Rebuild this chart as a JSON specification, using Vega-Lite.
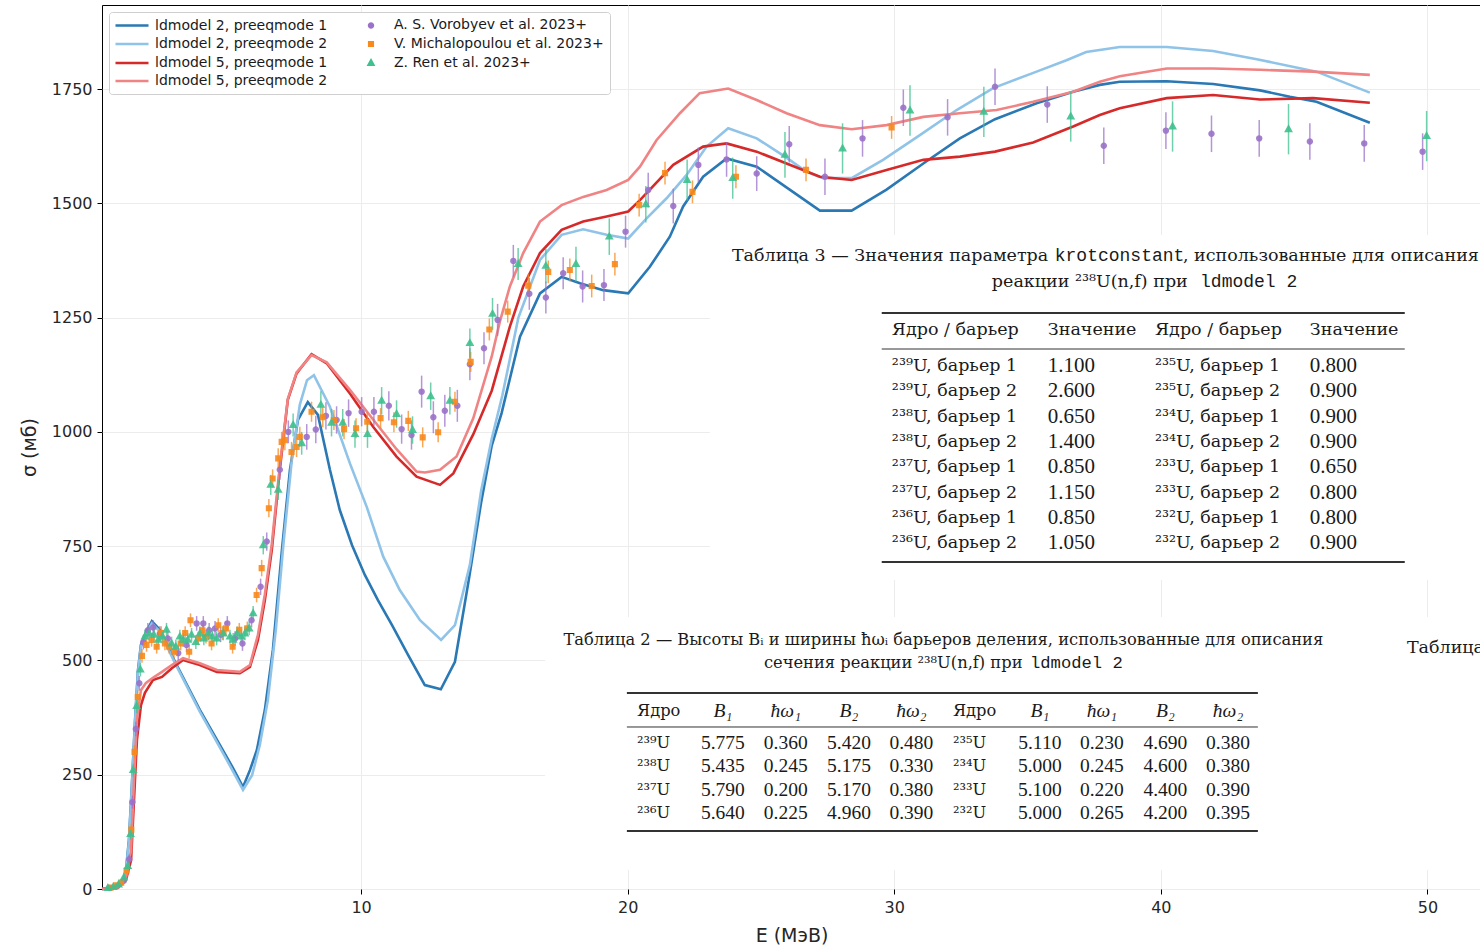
{
"$schema":"https://vega.github.io/schema/vega-lite/v6.json",
"width":1379,"height":884,
"autosize":"none",
"padding":{"left":102,"top":5,"right":0,"bottom":60},
"background":"white",
"config":{"view":{"stroke":"#000000","strokeWidth":1}},
"datasets":{
"curves":[
{"series":"ldmodel 2, preeqmode 1","e":0.28,"s":0},{"series":"ldmodel 2, preeqmode 1","e":0.77,"s":2},{"series":"ldmodel 2, preeqmode 1","e":1.03,"s":11},{"series":"ldmodel 2, preeqmode 1","e":1.18,"s":42},{"series":"ldmodel 2, preeqmode 1","e":1.29,"s":107},{"series":"ldmodel 2, preeqmode 1","e":1.40,"s":227},{"series":"ldmodel 2, preeqmode 1","e":1.52,"s":370},{"series":"ldmodel 2, preeqmode 1","e":1.63,"s":479},{"series":"ldmodel 2, preeqmode 1","e":1.74,"s":534},{"series":"ldmodel 2, preeqmode 1","e":1.93,"s":562},{"series":"ldmodel 2, preeqmode 1","e":2.15,"s":586},{"series":"ldmodel 2, preeqmode 1","e":2.45,"s":567},{"series":"ldmodel 2, preeqmode 1","e":3.02,"s":497},{"series":"ldmodel 2, preeqmode 1","e":3.95,"s":392},{"series":"ldmodel 2, preeqmode 1","e":4.70,"s":315},{"series":"ldmodel 2, preeqmode 1","e":5.19,"s":265},{"series":"ldmodel 2, preeqmode 1","e":5.57,"s":223},{"series":"ldmodel 2, preeqmode 1","e":5.83,"s":260},{"series":"ldmodel 2, preeqmode 1","e":6.09,"s":304},{"series":"ldmodel 2, preeqmode 1","e":6.39,"s":392},{"series":"ldmodel 2, preeqmode 1","e":6.69,"s":523},{"series":"ldmodel 2, preeqmode 1","e":7.03,"s":742},{"series":"ldmodel 2, preeqmode 1","e":7.33,"s":917},{"series":"ldmodel 2, preeqmode 1","e":7.63,"s":1026},{"series":"ldmodel 2, preeqmode 1","e":8.00,"s":1065},{"series":"ldmodel 2, preeqmode 1","e":8.38,"s":1037},{"series":"ldmodel 2, preeqmode 1","e":8.83,"s":917},{"series":"ldmodel 2, preeqmode 1","e":9.20,"s":829},{"series":"ldmodel 2, preeqmode 1","e":9.66,"s":752},{"series":"ldmodel 2, preeqmode 1","e":10.14,"s":687},{"series":"ldmodel 2, preeqmode 1","e":10.63,"s":632},{"series":"ldmodel 2, preeqmode 1","e":11.16,"s":577},{"series":"ldmodel 2, preeqmode 1","e":11.76,"s":512},{"series":"ldmodel 2, preeqmode 1","e":12.39,"s":446},{"series":"ldmodel 2, preeqmode 1","e":12.99,"s":437},{"series":"ldmodel 2, preeqmode 1","e":13.52,"s":497},{"series":"ldmodel 2, preeqmode 1","e":14.05,"s":680},{"series":"ldmodel 2, preeqmode 1","e":14.5,"s":845},{"series":"ldmodel 2, preeqmode 1","e":14.9,"s":970},{"series":"ldmodel 2, preeqmode 1","e":15.27,"s":1041},{"series":"ldmodel 2, preeqmode 1","e":15.96,"s":1208},{"series":"ldmodel 2, preeqmode 1","e":16.71,"s":1303},{"series":"ldmodel 2, preeqmode 1","e":17.52,"s":1339},{"series":"ldmodel 2, preeqmode 1","e":18.21,"s":1325},{"series":"ldmodel 2, preeqmode 1","e":19.08,"s":1310},{"series":"ldmodel 2, preeqmode 1","e":20.02,"s":1303},{"series":"ldmodel 2, preeqmode 1","e":20.83,"s":1361},{"series":"ldmodel 2, preeqmode 1","e":21.58,"s":1427},{"series":"ldmodel 2, preeqmode 1","e":22.08,"s":1493},{"series":"ldmodel 2, preeqmode 1","e":22.83,"s":1558},{"series":"ldmodel 2, preeqmode 1","e":23.71,"s":1598},{"series":"ldmodel 2, preeqmode 1","e":24.84,"s":1580},{"series":"ldmodel 2, preeqmode 1","e":27.21,"s":1484},{"series":"ldmodel 2, preeqmode 1","e":28.40,"s":1484},{"series":"ldmodel 2, preeqmode 1","e":29.71,"s":1530},{"series":"ldmodel 2, preeqmode 1","e":31.09,"s":1587},{"series":"ldmodel 2, preeqmode 1","e":32.46,"s":1642},{"series":"ldmodel 2, preeqmode 1","e":33.78,"s":1684},{"series":"ldmodel 2, preeqmode 1","e":35.34,"s":1719},{"series":"ldmodel 2, preeqmode 1","e":36.71,"s":1744},{"series":"ldmodel 2, preeqmode 1","e":37.71,"s":1759},{"series":"ldmodel 2, preeqmode 1","e":38.46,"s":1766},{"series":"ldmodel 2, preeqmode 1","e":40.22,"s":1767},{"series":"ldmodel 2, preeqmode 1","e":41.96,"s":1761},{"series":"ldmodel 2, preeqmode 1","e":43.72,"s":1747},{"series":"ldmodel 2, preeqmode 1","e":44.84,"s":1733},{"series":"ldmodel 2, preeqmode 1","e":45.84,"s":1722},{"series":"ldmodel 2, preeqmode 1","e":47.84,"s":1676},
{"series":"ldmodel 2, preeqmode 2","e":0.28,"s":0},{"series":"ldmodel 2, preeqmode 2","e":0.77,"s":2},{"series":"ldmodel 2, preeqmode 2","e":1.03,"s":10},{"series":"ldmodel 2, preeqmode 2","e":1.18,"s":40},{"series":"ldmodel 2, preeqmode 2","e":1.29,"s":103},{"series":"ldmodel 2, preeqmode 2","e":1.40,"s":222},{"series":"ldmodel 2, preeqmode 2","e":1.52,"s":365},{"series":"ldmodel 2, preeqmode 2","e":1.63,"s":474},{"series":"ldmodel 2, preeqmode 2","e":1.74,"s":530},{"series":"ldmodel 2, preeqmode 2","e":1.93,"s":558},{"series":"ldmodel 2, preeqmode 2","e":2.15,"s":581},{"series":"ldmodel 2, preeqmode 2","e":2.45,"s":563},{"series":"ldmodel 2, preeqmode 2","e":3.02,"s":494},{"series":"ldmodel 2, preeqmode 2","e":3.95,"s":388},{"series":"ldmodel 2, preeqmode 2","e":4.70,"s":310},{"series":"ldmodel 2, preeqmode 2","e":5.19,"s":258},{"series":"ldmodel 2, preeqmode 2","e":5.57,"s":217},{"series":"ldmodel 2, preeqmode 2","e":5.91,"s":249},{"series":"ldmodel 2, preeqmode 2","e":6.20,"s":315},{"series":"ldmodel 2, preeqmode 2","e":6.50,"s":413},{"series":"ldmodel 2, preeqmode 2","e":6.80,"s":567},{"series":"ldmodel 2, preeqmode 2","e":7.10,"s":763},{"series":"ldmodel 2, preeqmode 2","e":7.40,"s":938},{"series":"ldmodel 2, preeqmode 2","e":7.70,"s":1059},{"series":"ldmodel 2, preeqmode 2","e":7.97,"s":1113},{"series":"ldmodel 2, preeqmode 2","e":8.23,"s":1124},{"series":"ldmodel 2, preeqmode 2","e":8.83,"s":1055},{"series":"ldmodel 2, preeqmode 2","e":9.58,"s":931},{"series":"ldmodel 2, preeqmode 2","e":10.21,"s":836},{"series":"ldmodel 2, preeqmode 2","e":10.83,"s":727},{"series":"ldmodel 2, preeqmode 2","e":11.45,"s":654},{"series":"ldmodel 2, preeqmode 2","e":12.21,"s":588},{"series":"ldmodel 2, preeqmode 2","e":13.0,"s":545},{"series":"ldmodel 2, preeqmode 2","e":13.52,"s":577},{"series":"ldmodel 2, preeqmode 2","e":14.08,"s":709},{"series":"ldmodel 2, preeqmode 2","e":14.5,"s":870},{"series":"ldmodel 2, preeqmode 2","e":14.9,"s":985},{"series":"ldmodel 2, preeqmode 2","e":15.3,"s":1080},{"series":"ldmodel 2, preeqmode 2","e":15.9,"s":1250},{"series":"ldmodel 2, preeqmode 2","e":16.71,"s":1376},{"series":"ldmodel 2, preeqmode 2","e":17.52,"s":1431},{"series":"ldmodel 2, preeqmode 2","e":18.33,"s":1443},{"series":"ldmodel 2, preeqmode 2","e":19.21,"s":1431},{"series":"ldmodel 2, preeqmode 2","e":20.02,"s":1423},{"series":"ldmodel 2, preeqmode 2","e":20.71,"s":1467},{"series":"ldmodel 2, preeqmode 2","e":21.46,"s":1511},{"series":"ldmodel 2, preeqmode 2","e":22.21,"s":1562},{"series":"ldmodel 2, preeqmode 2","e":22.96,"s":1624},{"series":"ldmodel 2, preeqmode 2","e":23.77,"s":1664},{"series":"ldmodel 2, preeqmode 2","e":24.84,"s":1642},{"series":"ldmodel 2, preeqmode 2","e":25.90,"s":1602},{"series":"ldmodel 2, preeqmode 2","e":26.71,"s":1569},{"series":"ldmodel 2, preeqmode 2","e":27.33,"s":1555},{"series":"ldmodel 2, preeqmode 2","e":28.40,"s":1555},{"series":"ldmodel 2, preeqmode 2","e":29.58,"s":1595},{"series":"ldmodel 2, preeqmode 2","e":30.96,"s":1649},{"series":"ldmodel 2, preeqmode 2","e":32.34,"s":1704},{"series":"ldmodel 2, preeqmode 2","e":33.71,"s":1752},{"series":"ldmodel 2, preeqmode 2","e":35.34,"s":1788},{"series":"ldmodel 2, preeqmode 2","e":36.46,"s":1813},{"series":"ldmodel 2, preeqmode 2","e":37.2,"s":1831},{"series":"ldmodel 2, preeqmode 2","e":38.46,"s":1842},{"series":"ldmodel 2, preeqmode 2","e":40.22,"s":1842},{"series":"ldmodel 2, preeqmode 2","e":41.96,"s":1833},{"series":"ldmodel 2, preeqmode 2","e":43.6,"s":1815},{"series":"ldmodel 2, preeqmode 2","e":45.84,"s":1788},{"series":"ldmodel 2, preeqmode 2","e":47.84,"s":1742},
{"series":"ldmodel 5, preeqmode 1","e":0.28,"s":0},{"series":"ldmodel 5, preeqmode 1","e":0.88,"s":4},{"series":"ldmodel 5, preeqmode 1","e":1.18,"s":20},{"series":"ldmodel 5, preeqmode 1","e":1.37,"s":63},{"series":"ldmodel 5, preeqmode 1","e":1.48,"s":195},{"series":"ldmodel 5, preeqmode 1","e":1.59,"s":326},{"series":"ldmodel 5, preeqmode 1","e":1.74,"s":402},{"series":"ldmodel 5, preeqmode 1","e":1.89,"s":429},{"series":"ldmodel 5, preeqmode 1","e":2.19,"s":457},{"series":"ldmodel 5, preeqmode 1","e":2.53,"s":464},{"series":"ldmodel 5, preeqmode 1","e":2.90,"s":483},{"series":"ldmodel 5, preeqmode 1","e":3.32,"s":501},{"series":"ldmodel 5, preeqmode 1","e":3.95,"s":490},{"series":"ldmodel 5, preeqmode 1","e":4.59,"s":475},{"series":"ldmodel 5, preeqmode 1","e":5.45,"s":472},{"series":"ldmodel 5, preeqmode 1","e":5.83,"s":486},{"series":"ldmodel 5, preeqmode 1","e":6.13,"s":545},{"series":"ldmodel 5, preeqmode 1","e":6.39,"s":632},{"series":"ldmodel 5, preeqmode 1","e":6.65,"s":742},{"series":"ldmodel 5, preeqmode 1","e":6.95,"s":917},{"series":"ldmodel 5, preeqmode 1","e":7.25,"s":1070},{"series":"ldmodel 5, preeqmode 1","e":7.58,"s":1128},{"series":"ldmodel 5, preeqmode 1","e":8.14,"s":1170},{"series":"ldmodel 5, preeqmode 1","e":8.71,"s":1150},{"series":"ldmodel 5, preeqmode 1","e":9.58,"s":1084},{"series":"ldmodel 5, preeqmode 1","e":10.45,"s":1011},{"series":"ldmodel 5, preeqmode 1","e":11.33,"s":946},{"series":"ldmodel 5, preeqmode 1","e":12.08,"s":902},{"series":"ldmodel 5, preeqmode 1","e":12.96,"s":884},{"series":"ldmodel 5, preeqmode 1","e":13.46,"s":909},{"series":"ldmodel 5, preeqmode 1","e":14.21,"s":995},{"series":"ldmodel 5, preeqmode 1","e":14.9,"s":1090},{"series":"ldmodel 5, preeqmode 1","e":15.58,"s":1230},{"series":"ldmodel 5, preeqmode 1","e":16.08,"s":1318},{"series":"ldmodel 5, preeqmode 1","e":16.71,"s":1391},{"series":"ldmodel 5, preeqmode 1","e":17.52,"s":1442},{"series":"ldmodel 5, preeqmode 1","e":18.33,"s":1460},{"series":"ldmodel 5, preeqmode 1","e":19.21,"s":1471},{"series":"ldmodel 5, preeqmode 1","e":20.02,"s":1482},{"series":"ldmodel 5, preeqmode 1","e":20.46,"s":1507},{"series":"ldmodel 5, preeqmode 1","e":21.71,"s":1584},{"series":"ldmodel 5, preeqmode 1","e":22.83,"s":1624},{"series":"ldmodel 5, preeqmode 1","e":23.71,"s":1631},{"series":"ldmodel 5, preeqmode 1","e":24.84,"s":1613},{"series":"ldmodel 5, preeqmode 1","e":27.21,"s":1558},{"series":"ldmodel 5, preeqmode 1","e":28.40,"s":1551},{"series":"ldmodel 5, preeqmode 1","e":29.71,"s":1573},{"series":"ldmodel 5, preeqmode 1","e":31.09,"s":1595},{"series":"ldmodel 5, preeqmode 1","e":32.46,"s":1602},{"series":"ldmodel 5, preeqmode 1","e":33.78,"s":1613},{"series":"ldmodel 5, preeqmode 1","e":35.21,"s":1633},{"series":"ldmodel 5, preeqmode 1","e":36.71,"s":1668},{"series":"ldmodel 5, preeqmode 1","e":37.71,"s":1693},{"series":"ldmodel 5, preeqmode 1","e":38.46,"s":1708},{"series":"ldmodel 5, preeqmode 1","e":40.22,"s":1730},{"series":"ldmodel 5, preeqmode 1","e":41.96,"s":1737},{"series":"ldmodel 5, preeqmode 1","e":43.72,"s":1727},{"series":"ldmodel 5, preeqmode 1","e":45.71,"s":1730},{"series":"ldmodel 5, preeqmode 1","e":47.84,"s":1720},
{"series":"ldmodel 5, preeqmode 2","e":0.28,"s":0},{"series":"ldmodel 5, preeqmode 2","e":0.88,"s":4},{"series":"ldmodel 5, preeqmode 2","e":1.18,"s":24},{"series":"ldmodel 5, preeqmode 2","e":1.37,"s":85},{"series":"ldmodel 5, preeqmode 2","e":1.48,"s":238},{"series":"ldmodel 5, preeqmode 2","e":1.59,"s":370},{"series":"ldmodel 5, preeqmode 2","e":1.74,"s":435},{"series":"ldmodel 5, preeqmode 2","e":1.93,"s":451},{"series":"ldmodel 5, preeqmode 2","e":2.19,"s":462},{"series":"ldmodel 5, preeqmode 2","e":2.53,"s":475},{"series":"ldmodel 5, preeqmode 2","e":2.90,"s":490},{"series":"ldmodel 5, preeqmode 2","e":3.32,"s":505},{"series":"ldmodel 5, preeqmode 2","e":3.95,"s":494},{"series":"ldmodel 5, preeqmode 2","e":4.59,"s":479},{"series":"ldmodel 5, preeqmode 2","e":5.45,"s":475},{"series":"ldmodel 5, preeqmode 2","e":5.83,"s":490},{"series":"ldmodel 5, preeqmode 2","e":6.13,"s":556},{"series":"ldmodel 5, preeqmode 2","e":6.39,"s":645},{"series":"ldmodel 5, preeqmode 2","e":6.65,"s":755},{"series":"ldmodel 5, preeqmode 2","e":6.95,"s":925},{"series":"ldmodel 5, preeqmode 2","e":7.25,"s":1072},{"series":"ldmodel 5, preeqmode 2","e":7.58,"s":1130},{"series":"ldmodel 5, preeqmode 2","e":8.14,"s":1168},{"series":"ldmodel 5, preeqmode 2","e":8.71,"s":1152},{"series":"ldmodel 5, preeqmode 2","e":9.58,"s":1092},{"series":"ldmodel 5, preeqmode 2","e":10.45,"s":1027},{"series":"ldmodel 5, preeqmode 2","e":11.33,"s":962},{"series":"ldmodel 5, preeqmode 2","e":12.08,"s":913},{"series":"ldmodel 5, preeqmode 2","e":12.39,"s":911},{"series":"ldmodel 5, preeqmode 2","e":12.96,"s":917},{"series":"ldmodel 5, preeqmode 2","e":13.58,"s":946},{"series":"ldmodel 5, preeqmode 2","e":14.21,"s":1030},{"series":"ldmodel 5, preeqmode 2","e":14.9,"s":1165},{"series":"ldmodel 5, preeqmode 2","e":15.2,"s":1240},{"series":"ldmodel 5, preeqmode 2","e":15.58,"s":1318},{"series":"ldmodel 5, preeqmode 2","e":16.08,"s":1391},{"series":"ldmodel 5, preeqmode 2","e":16.71,"s":1460},{"series":"ldmodel 5, preeqmode 2","e":17.52,"s":1496},{"series":"ldmodel 5, preeqmode 2","e":18.33,"s":1514},{"series":"ldmodel 5, preeqmode 2","e":19.21,"s":1529},{"series":"ldmodel 5, preeqmode 2","e":20.02,"s":1551},{"series":"ldmodel 5, preeqmode 2","e":20.46,"s":1580},{"series":"ldmodel 5, preeqmode 2","e":21.08,"s":1638},{"series":"ldmodel 5, preeqmode 2","e":21.96,"s":1697},{"series":"ldmodel 5, preeqmode 2","e":22.7,"s":1741},{"series":"ldmodel 5, preeqmode 2","e":23.77,"s":1751},{"series":"ldmodel 5, preeqmode 2","e":24.84,"s":1726},{"series":"ldmodel 5, preeqmode 2","e":25.96,"s":1697},{"series":"ldmodel 5, preeqmode 2","e":27.21,"s":1671},{"series":"ldmodel 5, preeqmode 2","e":28.40,"s":1662},{"series":"ldmodel 5, preeqmode 2","e":29.71,"s":1671},{"series":"ldmodel 5, preeqmode 2","e":31.09,"s":1689},{"series":"ldmodel 5, preeqmode 2","e":32.46,"s":1697},{"series":"ldmodel 5, preeqmode 2","e":33.84,"s":1704},{"series":"ldmodel 5, preeqmode 2","e":35.21,"s":1722},{"series":"ldmodel 5, preeqmode 2","e":36.71,"s":1744},{"series":"ldmodel 5, preeqmode 2","e":37.71,"s":1766},{"series":"ldmodel 5, preeqmode 2","e":38.46,"s":1778},{"series":"ldmodel 5, preeqmode 2","e":40.22,"s":1795},{"series":"ldmodel 5, preeqmode 2","e":41.96,"s":1795},{"series":"ldmodel 5, preeqmode 2","e":43.72,"s":1792},{"series":"ldmodel 5, preeqmode 2","e":45.71,"s":1788},{"series":"ldmodel 5, preeqmode 2","e":47.84,"s":1781}
],
"exp":[
{"series":"A. S. Vorobyev et al. 2023+","e":0.55,"s":2,"err":4},{"series":"A. S. Vorobyev et al. 2023+","e":0.85,"s":6,"err":5},{"series":"A. S. Vorobyev et al. 2023+","e":1.1,"s":18,"err":6},{"series":"A. S. Vorobyev et al. 2023+","e":1.3,"s":65,"err":10},{"series":"A. S. Vorobyev et al. 2023+","e":1.42,"s":190,"err":14},{"series":"A. S. Vorobyev et al. 2023+","e":1.55,"s":350,"err":16},{"series":"A. S. Vorobyev et al. 2023+","e":1.68,"s":450,"err":16},{"series":"A. S. Vorobyev et al. 2023+","e":1.83,"s":540,"err":16},{"series":"A. S. Vorobyev et al. 2023+","e":2.0,"s":566,"err":16},{"series":"A. S. Vorobyev et al. 2023+","e":2.2,"s":572,"err":16},{"series":"A. S. Vorobyev et al. 2023+","e":2.45,"s":559,"err":16},{"series":"A. S. Vorobyev et al. 2023+","e":2.75,"s":548,"err":16},{"series":"A. S. Vorobyev et al. 2023+","e":3.14,"s":516,"err":16},{"series":"A. S. Vorobyev et al. 2023+","e":3.45,"s":534,"err":16},{"series":"A. S. Vorobyev et al. 2023+","e":3.83,"s":581,"err":16},{"series":"A. S. Vorobyev et al. 2023+","e":4.08,"s":581,"err":16},{"series":"A. S. Vorobyev et al. 2023+","e":4.3,"s":566,"err":16},{"series":"A. S. Vorobyev et al. 2023+","e":4.52,"s":570,"err":16},{"series":"A. S. Vorobyev et al. 2023+","e":4.73,"s":556,"err":16},{"series":"A. S. Vorobyev et al. 2023+","e":4.98,"s":581,"err":16},{"series":"A. S. Vorobyev et al. 2023+","e":5.27,"s":548,"err":16},{"series":"A. S. Vorobyev et al. 2023+","e":5.55,"s":537,"err":16},{"series":"A. S. Vorobyev et al. 2023+","e":5.89,"s":588,"err":16},{"series":"A. S. Vorobyev et al. 2023+","e":6.23,"s":661,"err":18},{"series":"A. S. Vorobyev et al. 2023+","e":6.46,"s":760,"err":20},{"series":"A. S. Vorobyev et al. 2023+","e":6.95,"s":917,"err":22},{"series":"A. S. Vorobyev et al. 2023+","e":7.27,"s":1000,"err":25},{"series":"A. S. Vorobyev et al. 2023+","e":7.96,"s":989,"err":28},{"series":"A. S. Vorobyev et al. 2023+","e":8.30,"s":1005,"err":30},{"series":"A. S. Vorobyev et al. 2023+","e":8.68,"s":1035,"err":30},{"series":"A. S. Vorobyev et al. 2023+","e":9.08,"s":1026,"err":30},{"series":"A. S. Vorobyev et al. 2023+","e":9.53,"s":1041,"err":30},{"series":"A. S. Vorobyev et al. 2023+","e":10.02,"s":1044,"err":32},{"series":"A. S. Vorobyev et al. 2023+","e":10.48,"s":1044,"err":32},{"series":"A. S. Vorobyev et al. 2023+","e":11.04,"s":1057,"err":32},{"series":"A. S. Vorobyev et al. 2023+","e":11.52,"s":1006,"err":32},{"series":"A. S. Vorobyev et al. 2023+","e":11.89,"s":993,"err":32},{"series":"A. S. Vorobyev et al. 2023+","e":12.27,"s":1088,"err":35},{"series":"A. S. Vorobyev et al. 2023+","e":12.71,"s":1032,"err":35},{"series":"A. S. Vorobyev et al. 2023+","e":13.14,"s":1046,"err":35},{"series":"A. S. Vorobyev et al. 2023+","e":13.61,"s":1057,"err":35},{"series":"A. S. Vorobyev et al. 2023+","e":14.08,"s":1148,"err":35},{"series":"A. S. Vorobyev et al. 2023+","e":14.61,"s":1183,"err":35},{"series":"A. S. Vorobyev et al. 2023+","e":15.12,"s":1245,"err":35},{"series":"A. S. Vorobyev et al. 2023+","e":15.71,"s":1374,"err":35},{"series":"A. S. Vorobyev et al. 2023+","e":16.31,"s":1302,"err":35},{"series":"A. S. Vorobyev et al. 2023+","e":16.93,"s":1294,"err":35},{"series":"A. S. Vorobyev et al. 2023+","e":17.58,"s":1347,"err":35},{"series":"A. S. Vorobyev et al. 2023+","e":18.31,"s":1318,"err":35},{"series":"A. S. Vorobyev et al. 2023+","e":19.11,"s":1321,"err":35},{"series":"A. S. Vorobyev et al. 2023+","e":19.92,"s":1438,"err":35},{"series":"A. S. Vorobyev et al. 2023+","e":20.77,"s":1529,"err":38},{"series":"A. S. Vorobyev et al. 2023+","e":21.71,"s":1494,"err":38},{"series":"A. S. Vorobyev et al. 2023+","e":22.65,"s":1584,"err":38},{"series":"A. S. Vorobyev et al. 2023+","e":23.71,"s":1596,"err":38},{"series":"A. S. Vorobyev et al. 2023+","e":24.84,"s":1565,"err":38},{"series":"A. S. Vorobyev et al. 2023+","e":26.06,"s":1629,"err":40},{"series":"A. S. Vorobyev et al. 2023+","e":27.40,"s":1558,"err":40},{"series":"A. S. Vorobyev et al. 2023+","e":28.81,"s":1642,"err":40},{"series":"A. S. Vorobyev et al. 2023+","e":30.34,"s":1709,"err":40},{"series":"A. S. Vorobyev et al. 2023+","e":32.00,"s":1688,"err":40},{"series":"A. S. Vorobyev et al. 2023+","e":33.78,"s":1755,"err":40},{"series":"A. S. Vorobyev et al. 2023+","e":35.74,"s":1716,"err":40},{"series":"A. S. Vorobyev et al. 2023+","e":37.86,"s":1626,"err":40},{"series":"A. S. Vorobyev et al. 2023+","e":40.19,"s":1659,"err":40},{"series":"A. S. Vorobyev et al. 2023+","e":41.90,"s":1652,"err":40},{"series":"A. S. Vorobyev et al. 2023+","e":43.69,"s":1642,"err":40},{"series":"A. S. Vorobyev et al. 2023+","e":45.59,"s":1635,"err":40},{"series":"A. S. Vorobyev et al. 2023+","e":47.63,"s":1631,"err":40},{"series":"A. S. Vorobyev et al. 2023+","e":49.82,"s":1613,"err":40},
{"series":"V. Michalopoulou et al. 2023+","e":0.6,"s":3,"err":4},{"series":"V. Michalopoulou et al. 2023+","e":0.8,"s":8,"err":5},{"series":"V. Michalopoulou et al. 2023+","e":1.0,"s":14,"err":6},{"series":"V. Michalopoulou et al. 2023+","e":1.2,"s":40,"err":8},{"series":"V. Michalopoulou et al. 2023+","e":1.38,"s":130,"err":12},{"series":"V. Michalopoulou et al. 2023+","e":1.5,"s":300,"err":15},{"series":"V. Michalopoulou et al. 2023+","e":1.62,"s":420,"err":15},{"series":"V. Michalopoulou et al. 2023+","e":1.78,"s":510,"err":15},{"series":"V. Michalopoulou et al. 2023+","e":1.95,"s":534,"err":15},{"series":"V. Michalopoulou et al. 2023+","e":2.14,"s":545,"err":15},{"series":"V. Michalopoulou et al. 2023+","e":2.33,"s":530,"err":15},{"series":"V. Michalopoulou et al. 2023+","e":2.5,"s":560,"err":15},{"series":"V. Michalopoulou et al. 2023+","e":2.64,"s":537,"err":15},{"series":"V. Michalopoulou et al. 2023+","e":2.80,"s":530,"err":15},{"series":"V. Michalopoulou et al. 2023+","e":2.98,"s":519,"err":15},{"series":"V. Michalopoulou et al. 2023+","e":3.23,"s":537,"err":15},{"series":"V. Michalopoulou et al. 2023+","e":3.40,"s":560,"err":15},{"series":"V. Michalopoulou et al. 2023+","e":3.55,"s":519,"err":15},{"series":"V. Michalopoulou et al. 2023+","e":3.60,"s":588,"err":15},{"series":"V. Michalopoulou et al. 2023+","e":3.89,"s":548,"err":15},{"series":"V. Michalopoulou et al. 2023+","e":4.05,"s":566,"err":15},{"series":"V. Michalopoulou et al. 2023+","e":4.18,"s":552,"err":15},{"series":"V. Michalopoulou et al. 2023+","e":4.39,"s":537,"err":15},{"series":"V. Michalopoulou et al. 2023+","e":4.64,"s":577,"err":15},{"series":"V. Michalopoulou et al. 2023+","e":4.80,"s":560,"err":15},{"series":"V. Michalopoulou et al. 2023+","e":4.93,"s":570,"err":15},{"series":"V. Michalopoulou et al. 2023+","e":5.18,"s":530,"err":15},{"series":"V. Michalopoulou et al. 2023+","e":5.43,"s":567,"err":15},{"series":"V. Michalopoulou et al. 2023+","e":5.73,"s":570,"err":15},{"series":"V. Michalopoulou et al. 2023+","e":6.08,"s":643,"err":16},{"series":"V. Michalopoulou et al. 2023+","e":6.27,"s":702,"err":18},{"series":"V. Michalopoulou et al. 2023+","e":6.54,"s":833,"err":20},{"series":"V. Michalopoulou et al. 2023+","e":6.68,"s":898,"err":20},{"series":"V. Michalopoulou et al. 2023+","e":6.89,"s":942,"err":22},{"series":"V. Michalopoulou et al. 2023+","e":7.02,"s":978,"err":22},{"series":"V. Michalopoulou et al. 2023+","e":7.14,"s":982,"err":22},{"series":"V. Michalopoulou et al. 2023+","e":7.39,"s":956,"err":22},{"series":"V. Michalopoulou et al. 2023+","e":7.58,"s":967,"err":22},{"series":"V. Michalopoulou et al. 2023+","e":7.70,"s":989,"err":22},{"series":"V. Michalopoulou et al. 2023+","e":8.14,"s":1044,"err":22},{"series":"V. Michalopoulou et al. 2023+","e":8.56,"s":1032,"err":22},{"series":"V. Michalopoulou et al. 2023+","e":8.98,"s":1026,"err":22},{"series":"V. Michalopoulou et al. 2023+","e":9.36,"s":1006,"err":22},{"series":"V. Michalopoulou et al. 2023+","e":9.81,"s":1008,"err":22},{"series":"V. Michalopoulou et al. 2023+","e":10.23,"s":1022,"err":22},{"series":"V. Michalopoulou et al. 2023+","e":10.73,"s":1030,"err":22},{"series":"V. Michalopoulou et al. 2023+","e":11.23,"s":1021,"err":22},{"series":"V. Michalopoulou et al. 2023+","e":11.77,"s":1024,"err":22},{"series":"V. Michalopoulou et al. 2023+","e":12.31,"s":988,"err":22},{"series":"V. Michalopoulou et al. 2023+","e":12.89,"s":999,"err":22},{"series":"V. Michalopoulou et al. 2023+","e":13.52,"s":1066,"err":22},{"series":"V. Michalopoulou et al. 2023+","e":14.11,"s":1153,"err":22},{"series":"V. Michalopoulou et al. 2023+","e":14.81,"s":1224,"err":24},{"series":"V. Michalopoulou et al. 2023+","e":15.50,"s":1263,"err":24},{"series":"V. Michalopoulou et al. 2023+","e":16.27,"s":1320,"err":25},{"series":"V. Michalopoulou et al. 2023+","e":17.02,"s":1350,"err":25},{"series":"V. Michalopoulou et al. 2023+","e":17.83,"s":1354,"err":25},{"series":"V. Michalopoulou et al. 2023+","e":18.65,"s":1319,"err":25},{"series":"V. Michalopoulou et al. 2023+","e":19.52,"s":1367,"err":25},{"series":"V. Michalopoulou et al. 2023+","e":20.43,"s":1496,"err":25},{"series":"V. Michalopoulou et al. 2023+","e":21.40,"s":1566,"err":25},{"series":"V. Michalopoulou et al. 2023+","e":22.43,"s":1525,"err":25},{"series":"V. Michalopoulou et al. 2023+","e":24.06,"s":1558,"err":25},{"series":"V. Michalopoulou et al. 2023+","e":26.69,"s":1573,"err":25},{"series":"V. Michalopoulou et al. 2023+","e":29.90,"s":1666,"err":25},
{"series":"Z. Ren et al. 2023+","e":0.5,"s":2,"err":4},{"series":"Z. Ren et al. 2023+","e":0.7,"s":4,"err":5},{"series":"Z. Ren et al. 2023+","e":0.9,"s":10,"err":6},{"series":"Z. Ren et al. 2023+","e":1.1,"s":25,"err":8},{"series":"Z. Ren et al. 2023+","e":1.25,"s":50,"err":10},{"series":"Z. Ren et al. 2023+","e":1.35,"s":120,"err":12},{"series":"Z. Ren et al. 2023+","e":1.45,"s":260,"err":14},{"series":"Z. Ren et al. 2023+","e":1.58,"s":400,"err":15},{"series":"Z. Ren et al. 2023+","e":1.72,"s":480,"err":15},{"series":"Z. Ren et al. 2023+","e":1.89,"s":552,"err":15},{"series":"Z. Ren et al. 2023+","e":2.05,"s":559,"err":15},{"series":"Z. Ren et al. 2023+","e":2.23,"s":556,"err":15},{"series":"Z. Ren et al. 2023+","e":2.39,"s":545,"err":15},{"series":"Z. Ren et al. 2023+","e":2.55,"s":552,"err":15},{"series":"Z. Ren et al. 2023+","e":2.70,"s":567,"err":15},{"series":"Z. Ren et al. 2023+","e":2.89,"s":537,"err":15},{"series":"Z. Ren et al. 2023+","e":3.05,"s":530,"err":15},{"series":"Z. Ren et al. 2023+","e":3.20,"s":552,"err":15},{"series":"Z. Ren et al. 2023+","e":3.33,"s":545,"err":15},{"series":"Z. Ren et al. 2023+","e":3.50,"s":545,"err":15},{"series":"Z. Ren et al. 2023+","e":3.64,"s":556,"err":15},{"series":"Z. Ren et al. 2023+","e":3.80,"s":540,"err":15},{"series":"Z. Ren et al. 2023+","e":3.95,"s":559,"err":15},{"series":"Z. Ren et al. 2023+","e":4.10,"s":548,"err":15},{"series":"Z. Ren et al. 2023+","e":4.27,"s":559,"err":15},{"series":"Z. Ren et al. 2023+","e":4.42,"s":552,"err":15},{"series":"Z. Ren et al. 2023+","e":4.58,"s":548,"err":15},{"series":"Z. Ren et al. 2023+","e":4.83,"s":559,"err":15},{"series":"Z. Ren et al. 2023+","e":5.08,"s":552,"err":15},{"series":"Z. Ren et al. 2023+","e":5.20,"s":545,"err":15},{"series":"Z. Ren et al. 2023+","e":5.35,"s":559,"err":15},{"series":"Z. Ren et al. 2023+","e":5.50,"s":552,"err":15},{"series":"Z. Ren et al. 2023+","e":5.64,"s":559,"err":15},{"series":"Z. Ren et al. 2023+","e":5.80,"s":570,"err":15},{"series":"Z. Ren et al. 2023+","e":5.95,"s":603,"err":16},{"series":"Z. Ren et al. 2023+","e":6.33,"s":752,"err":20},{"series":"Z. Ren et al. 2023+","e":6.61,"s":884,"err":22},{"series":"Z. Ren et al. 2023+","e":6.89,"s":873,"err":22},{"series":"Z. Ren et al. 2023+","e":7.45,"s":1015,"err":25},{"series":"Z. Ren et al. 2023+","e":7.77,"s":975,"err":25},{"series":"Z. Ren et al. 2023+","e":8.49,"s":1059,"err":30},{"series":"Z. Ren et al. 2023+","e":8.89,"s":1020,"err":30},{"series":"Z. Ren et al. 2023+","e":9.31,"s":1020,"err":30},{"series":"Z. Ren et al. 2023+","e":9.77,"s":995,"err":30},{"series":"Z. Ren et al. 2023+","e":10.24,"s":995,"err":30},{"series":"Z. Ren et al. 2023+","e":10.77,"s":1068,"err":30},{"series":"Z. Ren et al. 2023+","e":11.33,"s":1039,"err":30},{"series":"Z. Ren et al. 2023+","e":11.93,"s":1004,"err":30},{"series":"Z. Ren et al. 2023+","e":12.61,"s":1078,"err":30},{"series":"Z. Ren et al. 2023+","e":13.33,"s":1068,"err":30},{"series":"Z. Ren et al. 2023+","e":14.08,"s":1194,"err":32},{"series":"Z. Ren et al. 2023+","e":14.93,"s":1258,"err":35},{"series":"Z. Ren et al. 2023+","e":15.89,"s":1367,"err":35},{"series":"Z. Ren et al. 2023+","e":16.93,"s":1363,"err":38},{"series":"Z. Ren et al. 2023+","e":18.06,"s":1367,"err":38},{"series":"Z. Ren et al. 2023+","e":19.31,"s":1427,"err":40},{"series":"Z. Ren et al. 2023+","e":20.68,"s":1498,"err":40},{"series":"Z. Ren et al. 2023+","e":22.23,"s":1551,"err":45},{"series":"Z. Ren et al. 2023+","e":23.94,"s":1555,"err":45},{"series":"Z. Ren et al. 2023+","e":25.90,"s":1606,"err":50},{"series":"Z. Ren et al. 2023+","e":28.06,"s":1620,"err":55},{"series":"Z. Ren et al. 2023+","e":30.59,"s":1703,"err":55},{"series":"Z. Ren et al. 2023+","e":33.36,"s":1700,"err":55},{"series":"Z. Ren et al. 2023+","e":36.62,"s":1690,"err":55},{"series":"Z. Ren et al. 2023+","e":40.44,"s":1668,"err":55},{"series":"Z. Ren et al. 2023+","e":44.79,"s":1662,"err":55},{"series":"Z. Ren et al. 2023+","e":49.97,"s":1647,"err":55}
],
"panels":[{"e":23.08,"e2":52.3,"s":1430.6,"s2":675.9},{"e":16.9,"e2":52.3,"s":595,"s2":41.6}],
"rulesThick":[{"e":29.53,"e2":49.15,"s":1260},{"e":29.53,"e2":49.15,"s":715.3},{"e":19.97,"e2":43.64,"s":428.75},{"e":19.97,"e2":43.64,"s":126.9}],
"rulesThin":[{"e":29.53,"e2":49.15,"s":1181.25},{"e":19.97,"e2":43.64,"s":354.4}],
"t3serif":[
{"t":"Таблица 3 — Значения параметра","e":23.91,"s":1384.7},
{"t":", использованные для описания","e":40.83,"s":1384.7},
{"t":"реакции ²³⁸U(n,f) при","e":33.66,"s":1327.8},
{"t":"Ядро / барьер","e":29.91,"s":1222.8},{"t":"Значение","e":35.76,"s":1222.8},{"t":"Ядро / барьер","e":39.78,"s":1222.8},{"t":"Значение","e":45.59,"s":1222.8},
{"t":"²³⁹U, барьер 1","e":29.91,"s":1144.1},{"t":"²³⁵U, барьер 1","e":39.78,"s":1144.1},
{"t":"²³⁹U, барьер 2","e":29.91,"s":1089.4},{"t":"²³⁵U, барьер 2","e":39.78,"s":1089.4},
{"t":"²³⁸U, барьер 1","e":29.91,"s":1032.5},{"t":"²³⁴U, барьер 1","e":39.78,"s":1032.5},
{"t":"²³⁸U, барьер 2","e":29.91,"s":977.8},{"t":"²³⁴U, барьер 2","e":39.78,"s":977.8},
{"t":"²³⁷U, барьер 1","e":29.91,"s":923.1},{"t":"²³³U, барьер 1","e":39.78,"s":923.1},
{"t":"²³⁷U, барьер 2","e":29.91,"s":866.3},{"t":"²³³U, барьер 2","e":39.78,"s":866.3},
{"t":"²³⁶U, барьер 1","e":29.91,"s":811.6},{"t":"²³²U, барьер 1","e":39.78,"s":811.6},
{"t":"²³⁶U, барьер 2","e":29.91,"s":756.9},{"t":"²³²U, барьер 2","e":39.78,"s":756.9},
{"t":"Таблица","e":49.23,"s":527.2}
],
"t3num":[
{"t":"1.100","e":35.76,"s":1144.1},{"t":"0.800","e":45.59,"s":1144.1},
{"t":"2.600","e":35.76,"s":1089.4},{"t":"0.900","e":45.59,"s":1089.4},
{"t":"0.650","e":35.76,"s":1032.5},{"t":"0.900","e":45.59,"s":1032.5},
{"t":"1.400","e":35.76,"s":977.8},{"t":"0.900","e":45.59,"s":977.8},
{"t":"0.850","e":35.76,"s":923.1},{"t":"0.650","e":45.59,"s":923.1},
{"t":"1.150","e":35.76,"s":866.3},{"t":"0.800","e":45.59,"s":866.3},
{"t":"0.850","e":35.76,"s":811.6},{"t":"0.800","e":45.59,"s":811.6},
{"t":"1.050","e":35.76,"s":756.9},{"t":"0.900","e":45.59,"s":756.9}
],
"t3mono":[{"t":"krotconstant","e":36.02,"s":1384.7},{"t":"ldmodel 2","e":41.47,"s":1327.8}],
"t2serif":[
{"t":"сечения реакции ²³⁸U(n,f) при","e":25.11,"s":494.4},
{"t":"Ядро","e":20.35,"s":389.4},{"t":"Ядро","e":32.2,"s":389.4},
{"t":"²³⁹U","e":20.35,"s":319.4},{"t":"²³⁸U","e":20.35,"s":269.1},{"t":"²³⁷U","e":20.35,"s":216.6},{"t":"²³⁶U","e":20.35,"s":166.25},
{"t":"²³⁵U","e":32.2,"s":319.4},{"t":"²³⁴U","e":32.2,"s":269.1},{"t":"²³³U","e":32.2,"s":216.6},{"t":"²³²U","e":32.2,"s":166.25}
],
"t2title":[{"t":"Таблица 2 — Высоты Bᵢ и ширины ħωᵢ барьеров деления, использованные для описания","e":31.84,"s":544.7}],
"t2num":[
{"t":"5.775","e":23.57,"s":319.4},{"t":"0.360","e":25.93,"s":319.4},{"t":"5.420","e":28.30,"s":319.4},{"t":"0.480","e":30.64,"s":319.4},{"t":"5.110","e":35.46,"s":319.4},{"t":"0.230","e":37.79,"s":319.4},{"t":"4.690","e":40.17,"s":319.4},{"t":"0.380","e":42.52,"s":319.4},
{"t":"5.435","e":23.57,"s":269.1},{"t":"0.245","e":25.93,"s":269.1},{"t":"5.175","e":28.30,"s":269.1},{"t":"0.330","e":30.64,"s":269.1},{"t":"5.000","e":35.46,"s":269.1},{"t":"0.245","e":37.79,"s":269.1},{"t":"4.600","e":40.17,"s":269.1},{"t":"0.380","e":42.52,"s":269.1},
{"t":"5.790","e":23.57,"s":216.6},{"t":"0.200","e":25.93,"s":216.6},{"t":"5.170","e":28.30,"s":216.6},{"t":"0.380","e":30.64,"s":216.6},{"t":"5.100","e":35.46,"s":216.6},{"t":"0.220","e":37.79,"s":216.6},{"t":"4.400","e":40.17,"s":216.6},{"t":"0.390","e":42.52,"s":216.6},
{"t":"5.640","e":23.57,"s":166.25},{"t":"0.225","e":25.93,"s":166.25},{"t":"4.960","e":28.30,"s":166.25},{"t":"0.390","e":30.64,"s":166.25},{"t":"5.000","e":35.46,"s":166.25},{"t":"0.265","e":37.79,"s":166.25},{"t":"4.200","e":40.17,"s":166.25},{"t":"0.395","e":42.52,"s":166.25}
],
"t2ital":[
{"t":"B₁","e":23.57,"s":389.4},{"t":"ħω₁","e":25.93,"s":389.4},{"t":"B₂","e":28.30,"s":389.4},{"t":"ħω₂","e":30.64,"s":389.4},{"t":"B₁","e":35.46,"s":389.4},{"t":"ħω₁","e":37.79,"s":389.4},{"t":"B₂","e":40.17,"s":389.4},{"t":"ħω₂","e":42.52,"s":389.4}
],
"t2mono":[{"t":"ldmodel 2","e":35.09,"s":494.4}]
},
"encoding":{
"x":{"field":"e","type":"quantitative","scale":{"domain":[0.28,52.01],"nice":false,"zero":false},
 "axis":{"title":"E (МэВ)","values":[10,20,30,40,50],"grid":true,"gridColor":"#ececec","gridWidth":1,"domain":false,"ticks":true,"tickColor":"#000000","tickSize":5,"labelFont":"DejaVu Sans","labelFontSize":16,"labelColor":"#262626","labelPadding":5,"titleFont":"DejaVu Sans","titleFontSize":19,"titleFontWeight":"normal","titleColor":"#262626","titlePadding":11}},
"y":{"field":"s","type":"quantitative","scale":{"domain":[0,1933.75],"nice":false,"zero":false},
 "axis":{"title":"σ (мб)","format":"d","values":[0,250,500,750,1000,1250,1500,1750],"grid":true,"gridColor":"#ececec","gridWidth":1,"domain":false,"ticks":true,"tickColor":"#000000","tickSize":5,"labelFont":"DejaVu Sans","labelFontSize":16,"labelColor":"#262626","labelPadding":5,"titleFont":"DejaVu Sans","titleFontSize":19,"titleFontWeight":"normal","titleColor":"#262626","titlePadding":12}}
},
"layer":[
{"data":{"name":"curves"},
 "mark":{"type":"line","strokeWidth":2.6},
 "encoding":{
  "stroke":{"field":"series","type":"nominal",
   "scale":{"domain":["ldmodel 2, preeqmode 1","ldmodel 2, preeqmode 2","ldmodel 5, preeqmode 1","ldmodel 5, preeqmode 2","A. S. Vorobyev et al. 2023+","V. Michalopoulou et al. 2023+","Z. Ren et al. 2023+"],
            "range":["#2a78b4","#8fc3e8","#d62a2a","#f08383","#9b72c9","#f8891c","#3fc08f"]},
   "legend":{"title":null,"orient":"top-left","offset":7,"columns":2,"columnPadding":26,"rowPadding":4,"padding":6,"fillColor":"white","strokeColor":"#cfcfcf","cornerRadius":3,"labelFont":"DejaVu Sans","labelFontSize":14,"labelColor":"#1a1a1a","labelLimit":0,"symbolSize":121,"symbolStrokeWidth":2.6,"symbolOffset":10,"labelOffset":16,"symbolOpacity":1}}}},
{"data":{"name":"exp"},
 "mark":{"type":"errorbar","ticks":false,"thickness":1.5,"opacity":0.75},
 "encoding":{"yError":{"field":"err"},
  "color":{"field":"series","type":"nominal","scale":{"domain":["A. S. Vorobyev et al. 2023+","V. Michalopoulou et al. 2023+","Z. Ren et al. 2023+"],"range":["#9b72c9","#f8891c","#3fc08f"]},"legend":null}}},
{"data":{"name":"exp"},
 "mark":{"type":"point","filled":true,"size":121,"strokeWidth":2.6,"opacity":0.9},
 "encoding":{
  "fill":{"field":"series","type":"nominal",
   "scale":{"domain":["ldmodel 2, preeqmode 1","ldmodel 2, preeqmode 2","ldmodel 5, preeqmode 1","ldmodel 5, preeqmode 2","A. S. Vorobyev et al. 2023+","V. Michalopoulou et al. 2023+","Z. Ren et al. 2023+"],
            "range":["#2a78b4","#8fc3e8","#d62a2a","#f08383","#9b72c9","#f8891c","#3fc08f"]},
   "legend":{"title":null,"orient":"top-left","offset":7,"columns":2,"columnPadding":26,"rowPadding":4,"padding":6,"fillColor":"white","strokeColor":"#cfcfcf","cornerRadius":3,"labelFont":"DejaVu Sans","labelFontSize":14,"labelColor":"#1a1a1a","labelLimit":0,"symbolSize":121,"symbolStrokeWidth":2.6,"symbolOffset":10,"labelOffset":16,"symbolOpacity":1}},
  "stroke":{"field":"series","type":"nominal",
   "scale":{"domain":["ldmodel 2, preeqmode 1","ldmodel 2, preeqmode 2","ldmodel 5, preeqmode 1","ldmodel 5, preeqmode 2","A. S. Vorobyev et al. 2023+","V. Michalopoulou et al. 2023+","Z. Ren et al. 2023+"],
            "range":["#2a78b4","#8fc3e8","#d62a2a","#f08383","#9b72c9","#f8891c","#3fc08f"]},
   "legend":{"title":null,"orient":"top-left","offset":7,"columns":2,"columnPadding":26,"rowPadding":4,"padding":6,"fillColor":"white","strokeColor":"#cfcfcf","cornerRadius":3,"labelFont":"DejaVu Sans","labelFontSize":14,"labelColor":"#1a1a1a","labelLimit":0,"symbolSize":121,"symbolStrokeWidth":2.6,"symbolOffset":10,"labelOffset":16,"symbolOpacity":1}},
  "shape":{"field":"series","type":"nominal",
   "scale":{"domain":["ldmodel 2, preeqmode 1","ldmodel 2, preeqmode 2","ldmodel 5, preeqmode 1","ldmodel 5, preeqmode 2","A. S. Vorobyev et al. 2023+","V. Michalopoulou et al. 2023+","Z. Ren et al. 2023+"],
            "range":["M-3,0H3","M-3,0H3","M-3,0H3","M-3,0H3","M-0.35,0A0.35,0.35,0,1,0,0.35,0A0.35,0.35,0,1,0,-0.35,0Z","M-0.32,-0.32H0.32V0.32H-0.32Z","M0,-0.42L0.4,0.3H-0.4Z"]},
   "legend":{"title":null,"orient":"top-left","offset":7,"columns":2,"columnPadding":26,"rowPadding":4,"padding":6,"fillColor":"white","strokeColor":"#cfcfcf","cornerRadius":3,"labelFont":"DejaVu Sans","labelFontSize":14,"labelColor":"#1a1a1a","labelLimit":0,"symbolSize":121,"symbolStrokeWidth":2.6,"symbolOffset":10,"labelOffset":16,"symbolOpacity":1}}}},
{"data":{"name":"panels"},
 "mark":{"type":"rect","fill":"white"},
 "encoding":{"x2":{"field":"e2"},"y2":{"field":"s2"}}},
{"data":{"name":"rulesThick"},
 "mark":{"type":"rule","strokeWidth":1.8,"color":"#333333"},
 "encoding":{"x2":{"field":"e2"}}},
{"data":{"name":"rulesThin"},
 "mark":{"type":"rule","strokeWidth":1.0,"color":"#333333"},
 "encoding":{"x2":{"field":"e2"}}},
{"data":{"name":"t3serif"},
 "mark":{"type":"text","align":"left","baseline":"middle","font":"DejaVu Serif","fontSize":17.5,"color":"#1a1a1a"},
 "encoding":{"text":{"field":"t"}}},
{"data":{"name":"t3num"},
 "mark":{"type":"text","align":"left","baseline":"middle","font":"Liberation Serif","fontSize":21,"color":"#1a1a1a"},
 "encoding":{"text":{"field":"t"}}},
{"data":{"name":"t3mono"},
 "mark":{"type":"text","align":"left","baseline":"middle","font":"Liberation Mono","fontSize":18,"color":"#1a1a1a"},
 "encoding":{"text":{"field":"t"}}},
{"data":{"name":"t2serif"},
 "mark":{"type":"text","align":"left","baseline":"middle","font":"DejaVu Serif","fontSize":16.3,"color":"#1a1a1a"},
 "encoding":{"text":{"field":"t"}}},
{"data":{"name":"t2title"},
 "mark":{"type":"text","align":"center","baseline":"middle","font":"DejaVu Serif","fontSize":16.3,"color":"#1a1a1a"},
 "encoding":{"text":{"field":"t"}}},
{"data":{"name":"t2num"},
 "mark":{"type":"text","align":"center","baseline":"middle","font":"Liberation Serif","fontSize":19.5,"color":"#1a1a1a"},
 "encoding":{"text":{"field":"t"}}},
{"data":{"name":"t2ital"},
 "mark":{"type":"text","align":"center","baseline":"middle","font":"Liberation Serif","fontStyle":"italic","fontSize":19.5,"color":"#1a1a1a"},
 "encoding":{"text":{"field":"t"}}},
{"data":{"name":"t2mono"},
 "mark":{"type":"text","align":"left","baseline":"middle","font":"Liberation Mono","fontSize":17.2,"color":"#1a1a1a"},
 "encoding":{"text":{"field":"t"}}}
]
}
